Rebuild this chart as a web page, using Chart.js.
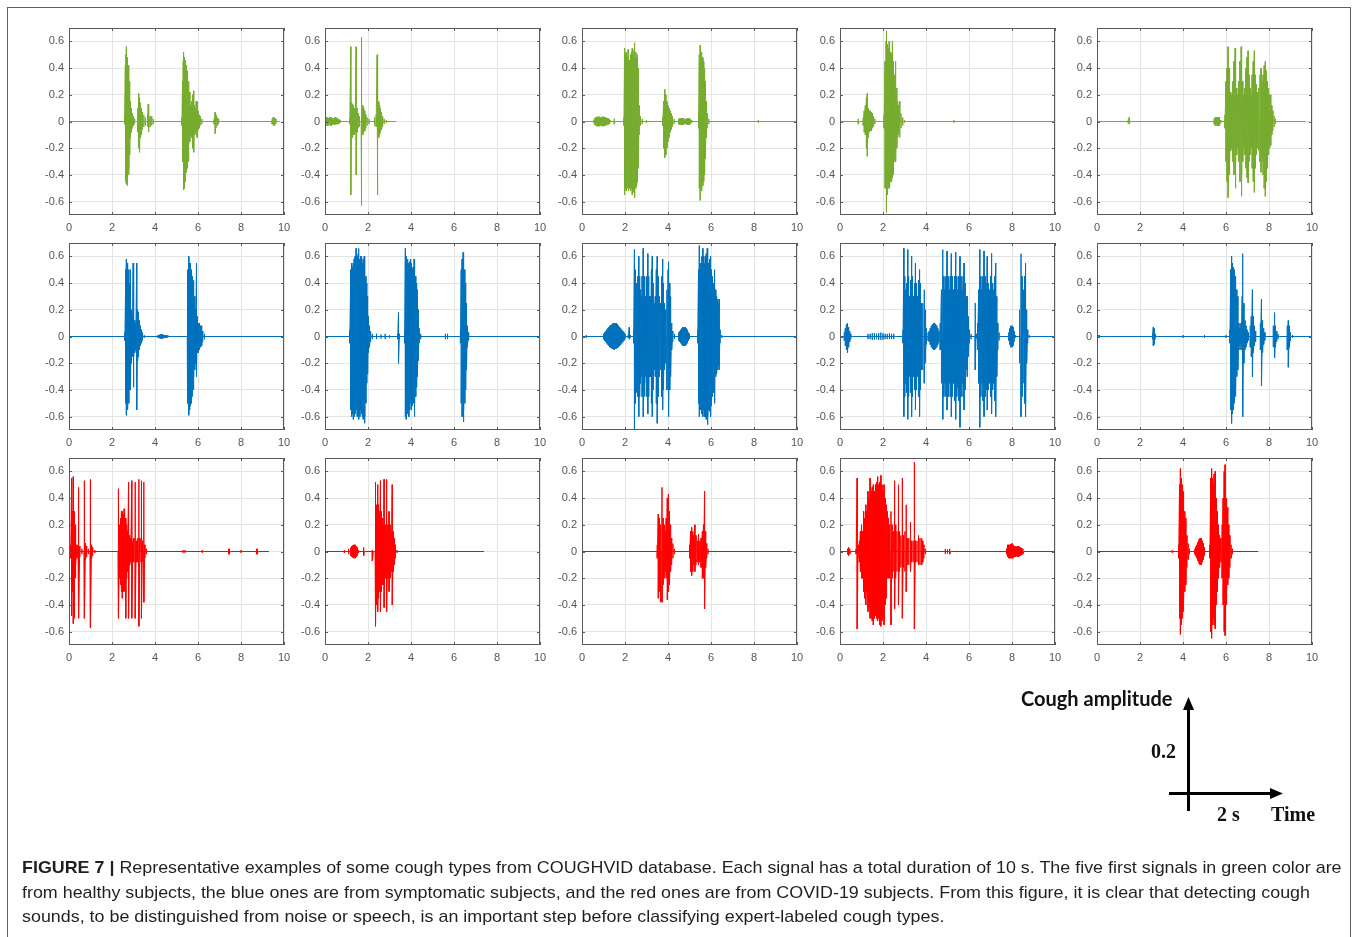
<!DOCTYPE html>
<html>
<head>
<meta charset="UTF-8">
<title>Cough signals</title>
<script src="https://cdn.jsdelivr.net/npm/chart.js@4.4.0/dist/chart.umd.min.js"></script>
<style>
  body { margin:0; background:#fff; width:1357px; height:937px; position:relative; overflow:hidden;
         font-family:"Liberation Sans", Arial, sans-serif; }
  #frame { position:absolute; left:7px; top:7px; width:1344px; height:960px; border:1px solid #606060; box-sizing:border-box; }
  canvas.panel { position:absolute; }
  .lbl { position:absolute; white-space:nowrap; color:#111; font-weight:bold; }
  #caption { position:absolute; left:22px; top:856px; color:#231f20; font-size:17px; line-height:24.5px;
             white-space:nowrap; transform-origin:0 0; }
  #caption b { font-weight:bold; }
</style>
</head>
<body>
<div id="frame"></div>
<div id="panels"></div>

<svg style="position:absolute;left:0;top:0" width="1357" height="937">
  <line x1="1188.5" y1="811" x2="1188.5" y2="708" stroke="#000" stroke-width="3"/>
  <polygon points="1188.5,697 1183,710 1194,710" fill="#000"/>
  <line x1="1169" y1="793.5" x2="1271" y2="793.5" stroke="#000" stroke-width="3"/>
  <polygon points="1283,793.5 1270,788 1270,799" fill="#000"/>
</svg>
<div class="lbl" style="left:1021px;top:688px;font-family:Lato,'Open Sans',sans-serif;font-size:20px;line-height:20px;">Cough amplitude</div>
<div class="lbl" style="left:1151px;top:740px;font-family:'Liberation Serif',serif;font-size:20px;line-height:22px;">0.2</div>
<div class="lbl" style="left:1217px;top:803px;font-family:'Liberation Serif',serif;font-size:20px;line-height:22px;">2 s</div>
<div class="lbl" style="left:1271px;top:803px;font-family:'Liberation Serif',serif;font-size:20px;line-height:22px;">Time</div>

<div id="caption">
  <div id="capLine1"><b>FIGURE 7 |</b> Representative examples of some cough types from COUGHVID database. Each signal has a total duration of 10 s. The five first signals in green color are</div>
  <div>from healthy subjects, the blue ones are from symptomatic subjects, and the red ones are from COVID-19 subjects. From this figure, it is clear that detecting cough</div>
  <div>sounds, to be distinguished from noise or speech, is an important step before classifying expert-labeled cough types.</div>
</div>

<script>
// tick labels
const xTicks = [0, 2, 4, 6, 8, 10];
const yTicks = [-0.6, -0.4, -0.2, 0, 0.2, 0.4, 0.6];

// one row per subject group
const groups = ['healthy', 'symptomatic', 'COVID-19'];
const groupColors = ['#77ac30', '#0072bd', '#ff0000'];

// spikes: [time s, upper amplitude, lower amplitude]
const g1 = [[0,0,0],[2.58,0.02,-0.02],[2.62,0.42,-0.4],[2.65,0.5,-0.45],[2.67,0.56,-0.47],[2.7,0.48,-0.48],[2.73,0.45,-0.42],[2.76,0.42,-0.4],[2.79,0.4,-0.36],[2.82,0.3,-0.25],[2.86,0.15,-0.12],[2.9,0.1,-0.08],[2.95,0.06,-0.05],[3.0,0.04,-0.03],[3.05,0.02,-0.02],
  [3.2,0.1,-0.08],[3.24,0.21,-0.2],[3.28,0.18,-0.23],[3.32,0.14,-0.12],[3.37,0.1,-0.1],[3.42,0.07,-0.06],[3.48,0.05,-0.04],[3.55,0.03,-0.03],
  [3.65,0.05,-0.04],[3.68,0.13,-0.08],[3.72,0.06,-0.05],[3.78,0.04,-0.04],[3.85,0.04,-0.03],[3.92,0.02,-0.02],[4.0,0,0],
  [5.25,0.03,-0.03],[5.28,0.3,-0.3],[5.31,0.45,-0.42],[5.34,0.52,-0.51],[5.37,0.48,-0.5],[5.4,0.46,-0.45],[5.43,0.44,-0.42],[5.46,0.42,-0.38],[5.5,0.38,-0.35],[5.54,0.3,-0.3],[5.58,0.2,-0.17],[5.62,0.22,-0.15],[5.66,0.12,-0.1],[5.7,0.15,-0.12],[5.75,0.2,-0.2],[5.8,0.23,-0.23],[5.84,0.12,-0.1],[5.88,0.1,-0.08],[5.92,0.15,-0.1],[5.96,0.15,-0.12],[6.0,0.08,-0.06],[6.05,0.05,-0.05],[6.1,0.04,-0.03],[6.18,0.02,-0.02],
  [6.75,0.02,-0.02],[6.8,0.07,-0.09],[6.84,0.05,-0.05],[6.9,0.03,-0.03],[6.96,0.02,-0.02],
  [9.45,0.02,-0.02],[9.5,0.03,-0.03],[9.56,0.03,-0.03],[9.62,0.02,-0.02],[9.8,0,0]];
const g2 = [[0,0.02,-0.02],[0.05,0.03,-0.03],[0.1,0.03,-0.03],[0.15,0.025,-0.03],[0.2,0.03,-0.02],[0.25,0.03,-0.03],[0.3,0.03,-0.03],[0.35,0.025,-0.025],[0.4,0.02,-0.02],[0.45,0.03,-0.025],[0.5,0.03,-0.02],[0.55,0.025,-0.02],[0.6,0.02,-0.02],[0.65,0.015,-0.015],[0.7,0.01,-0.01],[0.8,0,0],
  [1.15,0.02,-0.02],[1.2,0.56,-0.55],[1.24,0.14,-0.12],[1.28,0.13,-0.12],[1.32,0.12,-0.1],[1.36,0.1,-0.1],[1.4,0.09,-0.08],[1.45,0.56,-0.4],[1.49,0.1,-0.08],[1.54,0.06,-0.05],[1.6,0.04,-0.04],
  [1.68,0.63,-0.63],[1.72,0.12,-0.1],[1.76,0.12,-0.1],[1.8,0.1,-0.08],[1.85,0.08,-0.07],[1.9,0.05,-0.05],[1.96,0.03,-0.03],[2.05,0.02,-0.02],
  [2.3,0.03,-0.03],[2.38,0.05,-0.04],[2.42,0.5,-0.55],[2.46,0.18,-0.12],[2.5,0.15,-0.12],[2.54,0.12,-0.1],[2.58,0.1,-0.08],[2.63,0.07,-0.06],[2.68,0.04,-0.04],[2.75,0.02,-0.02],[2.85,0.01,-0.01],[3.3,0,0]];
const g3 = [[0,0,0],[0.55,0.01,-0.01],[0.6,0.025,-0.025],[0.65,0.03,-0.03],[0.7,0.035,-0.035],[0.75,0.035,-0.035],[0.8,0.035,-0.035],[0.85,0.03,-0.03],[0.9,0.03,-0.03],[0.95,0.035,-0.035],[1.0,0.035,-0.035],[1.05,0.03,-0.03],[1.1,0.03,-0.03],[1.15,0.025,-0.025],[1.2,0.025,-0.025],[1.25,0.02,-0.02],[1.3,0.01,-0.01],[1.5,0.02,-0.02],[1.55,0,0],
  [1.95,0.03,-0.03],[1.98,0.55,-0.55],[2.02,0.5,-0.5],[2.06,0.52,-0.52],[2.1,0.48,-0.5],[2.14,0.54,-0.52],[2.18,0.5,-0.48],[2.22,0.46,-0.5],[2.26,0.5,-0.52],[2.3,0.52,-0.5],[2.34,0.55,-0.55],[2.38,0.5,-0.53],[2.42,0.54,-0.52],[2.46,0.59,-0.57],[2.5,0.52,-0.5],[2.54,0.48,-0.48],[2.58,0.5,-0.45],[2.62,0.4,-0.35],[2.66,0.12,-0.1],[2.72,0.04,-0.03],[2.8,0.02,-0.02],[3.0,0.01,-0.01],
  [3.75,0.03,-0.03],[3.8,0.15,-0.2],[3.85,0.24,-0.27],[3.9,0.2,-0.25],[3.95,0.15,-0.2],[4.0,0.12,-0.15],[4.05,0.1,-0.12],[4.1,0.08,-0.08],[4.15,0.06,-0.06],[4.2,0.04,-0.04],[4.28,0.02,-0.02],
  [4.5,0.02,-0.02],[4.55,0.025,-0.025],[4.6,0.025,-0.025],[4.65,0.025,-0.025],[4.7,0.025,-0.025],[4.75,0.02,-0.02],[4.8,0.015,-0.015],[4.85,0.02,-0.02],[4.9,0.025,-0.025],[4.95,0.025,-0.025],[5.0,0.025,-0.025],[5.05,0.015,-0.015],[5.1,0.01,-0.01],
  [5.42,0.05,-0.05],[5.46,0.5,-0.5],[5.5,0.57,-0.59],[5.54,0.5,-0.52],[5.58,0.52,-0.5],[5.62,0.48,-0.48],[5.66,0.45,-0.45],[5.7,0.4,-0.4],[5.74,0.3,-0.28],[5.78,0.15,-0.12],[5.82,0.06,-0.05],[5.9,0.02,-0.02],[8.2,0.01,-0.01],[10,0,0]];
const g4 = [[0,0,0],[0.85,0.02,-0.02],[0.9,0,0],[1.08,0.03,-0.03],[1.13,0.08,-0.08],[1.18,0.12,-0.1],[1.23,0.18,-0.2],[1.27,0.21,-0.26],[1.31,0.1,-0.12],[1.36,0.08,-0.08],[1.41,0.08,-0.07],[1.46,0.07,-0.07],[1.51,0.06,-0.05],[1.56,0.04,-0.04],[1.62,0.02,-0.02],
  [2.05,0.05,-0.05],[2.1,0.45,-0.5],[2.14,0.6,-0.62],[2.17,0.68,-0.68],[2.2,0.58,-0.55],[2.24,0.55,-0.5],[2.28,0.6,-0.5],[2.32,0.55,-0.48],[2.36,0.52,-0.45],[2.4,0.5,-0.45],[2.44,0.6,-0.42],[2.48,0.45,-0.4],[2.52,0.35,-0.3],[2.56,0.3,-0.25],[2.6,0.45,-0.3],[2.64,0.25,-0.2],[2.68,0.15,-0.12],[2.72,0.12,-0.1],[2.78,0.15,-0.12],[2.84,0.06,-0.05],[2.92,0.03,-0.03],[3.0,0.01,-0.01],
  [5.3,0.01,-0.01],[10,0,0]];
const g5 = [[0,0,0],[1.45,0.01,-0.01],[1.5,0.03,-0.02],[1.55,0,0],[5.45,0.02,-0.02],[5.5,0.03,-0.03],[5.55,0.03,-0.03],[5.6,0.03,-0.03],[5.65,0.03,-0.03],[5.7,0.03,-0.03],[5.76,0.01,-0.01],
  [5.95,0.05,-0.05],[6.0,0.3,-0.3],[6.05,0.4,-0.45],[6.1,0.56,-0.57],[6.14,0.4,-0.4],[6.18,0.3,-0.3],[6.22,0.22,-0.22],[6.27,0.2,-0.2],[6.32,0.3,-0.3],[6.37,0.45,-0.4],[6.42,0.55,-0.5],[6.46,0.35,-0.3],[6.5,0.25,-0.25],[6.55,0.2,-0.2],[6.6,0.3,-0.3],[6.65,0.45,-0.45],[6.7,0.56,-0.56],[6.74,0.4,-0.4],[6.78,0.3,-0.3],[6.83,0.2,-0.2],[6.88,0.25,-0.25],[6.93,0.4,-0.35],[6.98,0.48,-0.42],[7.03,0.53,-0.46],[7.07,0.35,-0.3],[7.12,0.25,-0.25],[7.17,0.2,-0.2],[7.22,0.35,-0.35],[7.27,0.45,-0.45],[7.32,0.53,-0.53],[7.36,0.35,-0.35],[7.41,0.28,-0.25],[7.46,0.22,-0.2],[7.52,0.25,-0.22],[7.58,0.35,-0.3],[7.63,0.4,-0.38],[7.68,0.3,-0.3],[7.73,0.35,-0.4],[7.78,0.42,-0.5],[7.83,0.45,-0.56],[7.88,0.38,-0.45],[7.93,0.3,-0.35],[7.98,0.25,-0.25],[8.03,0.2,-0.2],[8.08,0.2,-0.18],[8.13,0.12,-0.1],[8.18,0.08,-0.07],[8.24,0.04,-0.04],[8.3,0.02,-0.02],[9.7,0,0]];

const b1 = [[0,0,0],[2.6,0.03,-0.03],[2.64,0.5,-0.5],[2.67,0.58,-0.59],[2.7,0.55,-0.55],[2.74,0.52,-0.52],[2.78,0.5,-0.5],[2.82,0.4,-0.4],[2.86,0.5,-0.4],[2.9,0.2,-0.2],[2.94,0.15,-0.15],[2.98,0.55,-0.38],[3.02,0.2,-0.15],[3.06,0.12,-0.12],[3.1,0.1,-0.1],[3.15,0.55,-0.55],[3.19,0.2,-0.18],[3.23,0.18,-0.15],[3.27,0.12,-0.1],[3.32,0.08,-0.07],[3.37,0.05,-0.05],[3.42,0.03,-0.03],[3.5,0.01,-0.01],
  [4.1,0.005,-0.005],[4.15,0.01,-0.01],[4.2,0.012,-0.012],[4.25,0.015,-0.015],[4.3,0.015,-0.015],[4.35,0.015,-0.015],[4.4,0.012,-0.012],[4.45,0.01,-0.01],[4.5,0.01,-0.01],[4.55,0.008,-0.008],[4.6,0.006,-0.006],[4.75,0,0],
  [5.5,0.03,-0.03],[5.53,0.5,-0.5],[5.57,0.6,-0.59],[5.61,0.55,-0.55],[5.65,0.55,-0.52],[5.69,0.5,-0.5],[5.73,0.45,-0.45],[5.77,0.42,-0.4],[5.81,0.35,-0.3],[5.85,0.3,-0.25],[5.89,0.2,-0.2],[5.93,0.55,-0.3],[5.97,0.15,-0.12],[6.02,0.1,-0.12],[6.07,0.1,-0.1],[6.12,0.08,-0.08],[6.17,0.08,-0.07],[6.22,0.04,-0.04],[6.3,0.02,-0.02],[10,0,0]];
const b2 = [[0,0,0],[1.15,0.05,-0.05],[1.2,0.5,-0.55],[1.24,0.55,-0.6],[1.28,0.52,-0.58],[1.32,0.55,-0.62],[1.36,0.58,-0.6],[1.4,0.6,-0.58],[1.45,0.66,-0.55],[1.5,0.6,-0.6],[1.54,0.62,-0.58],[1.58,0.66,-0.62],[1.62,0.58,-0.6],[1.66,0.6,-0.55],[1.7,0.6,-0.58],[1.74,0.55,-0.6],[1.78,0.58,-0.62],[1.82,0.6,-0.65],[1.86,0.5,-0.6],[1.9,0.45,-0.5],[1.94,0.4,-0.35],[1.98,0.3,-0.28],[2.02,0.15,-0.12],[2.07,0.08,-0.08],[2.12,0.04,-0.04],[2.2,0.02,-0.02],[2.4,0.02,-0.02],[2.6,0.015,-0.015],[2.8,0.02,-0.02],[3.0,0.01,-0.01],
  [3.38,0.02,-0.02],[3.42,0.18,-0.2],[3.46,0.02,-0.02],
  [3.7,0.05,-0.05],[3.74,0.66,-0.6],[3.78,0.6,-0.62],[3.82,0.55,-0.55],[3.86,0.58,-0.58],[3.9,0.55,-0.6],[3.94,0.56,-0.55],[3.98,0.58,-0.5],[4.02,0.55,-0.55],[4.06,0.5,-0.52],[4.1,0.52,-0.5],[4.14,0.58,-0.6],[4.18,0.5,-0.5],[4.22,0.45,-0.45],[4.26,0.4,-0.38],[4.3,0.35,-0.3],[4.34,0.2,-0.18],[4.38,0.06,-0.05],[4.45,0.02,-0.02],
  [5.6,0.02,-0.02],[5.7,0.02,-0.02],[5.8,0,0],
  [6.3,0.05,-0.05],[6.34,0.5,-0.5],[6.38,0.58,-0.6],[6.42,0.63,-0.64],[6.46,0.55,-0.55],[6.5,0.5,-0.5],[6.54,0.4,-0.4],[6.58,0.25,-0.25],[6.62,0.08,-0.08],[6.68,0.03,-0.03],[10,0,0]];
const b3 = [[0,0.12,-0.1],[0.04,0.03,-0.03],[0.2,0.01,-0.01],
  [1.0,0.02,-0.02],[1.05,0.03,-0.03],[1.1,0.04,-0.04],[1.15,0.05,-0.05],[1.2,0.06,-0.06],[1.25,0.07,-0.07],[1.3,0.08,-0.08],[1.35,0.085,-0.085],[1.4,0.09,-0.09],[1.45,0.1,-0.095],[1.5,0.1,-0.1],[1.55,0.1,-0.09],[1.6,0.1,-0.09],[1.65,0.09,-0.085],[1.7,0.08,-0.08],[1.75,0.07,-0.07],[1.8,0.06,-0.06],[1.85,0.05,-0.05],[1.9,0.04,-0.04],[1.95,0.03,-0.03],[2.0,0.02,-0.02],[2.15,0.01,-0.01],[2.2,0.07,-0.02],[2.25,0.01,-0.01],
  [2.4,0.05,-0.05],[2.44,0.65,-0.7],[2.48,0.5,-0.5],[2.52,0.4,-0.42],[2.56,0.3,-0.3],[2.6,0.45,-0.45],[2.64,0.6,-0.6],[2.68,0.45,-0.45],[2.72,0.35,-0.35],[2.76,0.3,-0.3],[2.8,0.45,-0.45],[2.85,0.66,-0.6],[2.89,0.45,-0.45],[2.93,0.35,-0.35],[2.97,0.3,-0.3],[3.02,0.45,-0.45],[3.06,0.62,-0.58],[3.1,0.45,-0.45],[3.14,0.3,-0.3],[3.19,0.3,-0.3],[3.23,0.5,-0.5],[3.27,0.6,-0.6],[3.31,0.4,-0.4],[3.36,0.25,-0.25],[3.41,0.3,-0.3],[3.46,0.5,-0.5],[3.5,0.6,-0.65],[3.54,0.45,-0.45],[3.59,0.3,-0.3],[3.64,0.25,-0.25],[3.7,0.45,-0.45],[3.75,0.58,-0.55],[3.79,0.4,-0.4],[3.84,0.25,-0.25],[3.89,0.2,-0.2],[3.95,0.35,-0.4],[4.0,0.5,-0.5],[4.04,0.56,-0.6],[4.08,0.4,-0.4],[4.12,0.3,-0.3],[4.17,0.1,-0.1],[4.22,0.04,-0.04],[4.3,0.02,-0.02],
  [4.5,0.03,-0.03],[4.55,0.04,-0.04],[4.6,0.05,-0.05],[4.65,0.06,-0.06],[4.7,0.07,-0.07],[4.75,0.07,-0.07],[4.8,0.07,-0.07],[4.85,0.06,-0.06],[4.9,0.05,-0.05],[4.95,0.03,-0.03],[5.0,0.02,-0.02],
  [5.38,0.05,-0.05],[5.42,0.5,-0.5],[5.46,0.68,-0.6],[5.5,0.55,-0.55],[5.54,0.55,-0.55],[5.58,0.6,-0.58],[5.62,0.66,-0.6],[5.66,0.6,-0.55],[5.7,0.55,-0.6],[5.74,0.6,-0.6],[5.78,0.62,-0.62],[5.82,0.66,-0.66],[5.86,0.6,-0.6],[5.9,0.55,-0.55],[5.94,0.58,-0.56],[5.98,0.6,-0.6],[6.02,0.5,-0.52],[6.06,0.45,-0.45],[6.1,0.4,-0.42],[6.14,0.35,-0.35],[6.18,0.5,-0.5],[6.22,0.35,-0.3],[6.26,0.3,-0.28],[6.3,0.28,-0.25],[6.34,0.25,-0.22],[6.38,0.28,-0.25],[6.42,0.05,-0.05],[6.5,0.01,-0.01],[10,0,0]];
const b4 = [[0,0,0],[0.2,0.03,-0.03],[0.25,0.06,-0.07],[0.3,0.09,-0.1],[0.35,0.1,-0.12],[0.4,0.07,-0.08],[0.45,0.04,-0.04],[0.5,0.02,-0.02],[0.6,0,0],
  [1.3,0.02,-0.02],[1.4,0.02,-0.02],[1.5,0.025,-0.025],[1.6,0.025,-0.025],[1.7,0.02,-0.02],[1.8,0.025,-0.025],[1.9,0.03,-0.025],[2.0,0.025,-0.025],[2.1,0.02,-0.02],[2.2,0.02,-0.02],[2.3,0.025,-0.02],[2.4,0.02,-0.02],[2.5,0.02,-0.02],[2.6,0,0],
  [2.93,0.05,-0.05],[2.97,0.66,-0.6],[3.01,0.45,-0.45],[3.05,0.35,-0.35],[3.1,0.4,-0.42],[3.15,0.65,-0.62],[3.19,0.45,-0.45],[3.24,0.3,-0.3],[3.29,0.42,-0.42],[3.33,0.6,-0.6],[3.37,0.45,-0.45],[3.42,0.3,-0.3],[3.47,0.4,-0.4],[3.51,0.55,-0.55],[3.55,0.4,-0.4],[3.6,0.3,-0.3],[3.65,0.42,-0.45],[3.7,0.5,-0.6],[3.74,0.4,-0.4],[3.79,0.25,-0.25],[3.85,0.25,-0.25],[3.92,0.35,-0.35],[3.96,0.2,-0.2],[4.02,0.06,-0.06],[4.1,0.03,-0.03],
  [4.15,0.04,-0.04],[4.2,0.06,-0.06],[4.25,0.08,-0.08],[4.3,0.09,-0.09],[4.35,0.1,-0.1],[4.4,0.1,-0.1],[4.45,0.09,-0.09],[4.5,0.08,-0.08],[4.55,0.06,-0.06],[4.6,0.04,-0.04],
  [4.66,0.1,-0.1],[4.72,0.35,-0.35],[4.78,0.65,-0.62],[4.83,0.45,-0.45],[4.88,0.35,-0.35],[4.93,0.45,-0.45],[4.98,0.64,-0.55],[5.03,0.45,-0.45],[5.08,0.35,-0.35],[5.13,0.45,-0.45],[5.18,0.62,-0.6],[5.23,0.45,-0.45],[5.28,0.35,-0.35],[5.33,0.45,-0.48],[5.38,0.63,-0.62],[5.43,0.45,-0.45],[5.48,0.35,-0.38],[5.53,0.45,-0.48],[5.58,0.6,-0.68],[5.63,0.45,-0.45],[5.68,0.35,-0.35],[5.73,0.45,-0.45],[5.77,0.55,-0.55],[5.82,0.4,-0.4],[5.87,0.3,-0.25],[5.92,0.3,-0.3],[5.97,0.15,-0.15],[6.02,0.05,-0.05],[6.1,0.02,-0.02],[6.28,0.02,-0.02],[6.3,0.25,-0.25],[6.33,0.02,-0.02],
  [6.4,0.1,-0.1],[6.45,0.35,-0.35],[6.5,0.65,-0.68],[6.55,0.45,-0.45],[6.6,0.35,-0.35],[6.65,0.45,-0.48],[6.7,0.64,-0.6],[6.75,0.45,-0.45],[6.8,0.4,-0.4],[6.85,0.6,-0.55],[6.9,0.4,-0.4],[6.95,0.35,-0.35],[7.0,0.45,-0.45],[7.05,0.62,-0.58],[7.1,0.4,-0.4],[7.15,0.35,-0.35],[7.2,0.45,-0.48],[7.24,0.55,-0.6],[7.29,0.3,-0.3],[7.34,0.1,-0.1],[7.4,0.03,-0.03],
  [7.85,0.03,-0.03],[7.9,0.06,-0.06],[7.95,0.08,-0.08],[8.0,0.08,-0.08],[8.05,0.07,-0.07],[8.1,0.04,-0.04],[8.16,0.01,-0.01],
  [8.35,0.2,-0.2],[8.42,0.62,-0.6],[8.47,0.45,-0.45],[8.52,0.35,-0.35],[8.58,0.45,-0.5],[8.63,0.55,-0.6],[8.68,0.2,-0.2],[8.73,0.05,-0.05],[8.8,0.01,-0.01],[10,0,0]];
const b5 = [[0,0.01,-0.01],[0.05,0.01,-0.01],[0.1,0.01,-0.01],[0.5,0,0],[2.58,0.02,-0.02],[2.62,0.07,-0.07],[2.66,0.06,-0.06],[2.7,0.02,-0.02],[2.8,0,0],[4.0,0.01,-0.01],[5.0,0.01,-0.01],[6.0,0.01,-0.01],
  [6.18,0.05,-0.05],[6.22,0.5,-0.55],[6.26,0.6,-0.65],[6.3,0.55,-0.58],[6.34,0.52,-0.55],[6.38,0.5,-0.5],[6.42,0.45,-0.45],[6.46,0.4,-0.38],[6.5,0.35,-0.3],[6.55,0.3,-0.25],[6.6,0.1,-0.1],[6.65,0.06,-0.06],
  [6.7,0.1,-0.1],[6.75,0.3,-0.3],[6.79,0.62,-0.6],[6.83,0.25,-0.2],[6.88,0.12,-0.1],[6.93,0.08,-0.08],[6.98,0.05,-0.05],[7.04,0.03,-0.03],
  [7.13,0.08,-0.08],[7.18,0.15,-0.15],[7.23,0.35,-0.3],[7.27,0.15,-0.12],[7.32,0.08,-0.07],[7.38,0.04,-0.04],
  [7.6,0.1,-0.1],[7.65,0.28,-0.37],[7.7,0.12,-0.12],[7.75,0.06,-0.06],[7.81,0.03,-0.03],
  [8.2,0.08,-0.08],[8.26,0.18,-0.16],[8.3,0.08,-0.08],[8.36,0.04,-0.04],[8.42,0.02,-0.02],
  [8.85,0.08,-0.1],[8.9,0.12,-0.23],[8.95,0.08,-0.08],[9.0,0.03,-0.03],[9.1,0.01,-0.01],[10,0,0]];

const r1 = [[0,0,0],[0.08,0.05,-0.05],[0.12,0.55,-0.48],[0.16,0.3,-0.3],[0.2,0.56,-0.54],[0.24,0.3,-0.5],[0.28,0.2,-0.2],[0.32,0.1,-0.1],[0.37,0.05,-0.05],[0.42,0.03,-0.03],[0.46,0.48,-0.5],[0.5,0.04,-0.04],[0.6,0.02,-0.02],[0.7,0.03,-0.03],[0.73,0.53,-0.5],[0.77,0.06,-0.06],[0.82,0.04,-0.04],[0.9,0.02,-0.02],[0.98,0.03,-0.03],[1.01,0.54,-0.57],[1.05,0.05,-0.05],[1.1,0.03,-0.03],[1.2,0.01,-0.01],
  [2.28,0.05,-0.05],[2.32,0.47,-0.5],[2.36,0.2,-0.2],[2.4,0.25,-0.25],[2.44,0.3,-0.3],[2.48,0.3,-0.35],[2.52,0.28,-0.3],[2.56,0.32,-0.3],[2.6,0.3,-0.28],[2.64,0.25,-0.5],[2.68,0.2,-0.2],[2.72,0.15,-0.15],[2.77,0.52,-0.5],[2.82,0.12,-0.1],[2.87,0.1,-0.08],[2.92,0.53,-0.5],[2.97,0.08,-0.08],[3.02,0.1,-0.08],[3.08,0.52,-0.5],[3.13,0.08,-0.08],[3.19,0.1,-0.08],[3.25,0.54,-0.56],[3.3,0.1,-0.08],[3.37,0.53,-0.5],[3.42,0.08,-0.08],[3.48,0.52,-0.38],[3.53,0.05,-0.05],[3.6,0.02,-0.02],
  [5.3,0.01,-0.01],[5.4,0.01,-0.01],[5.5,0,0],[6.2,0.01,-0.01],[6.3,0,0],[7.42,0.02,-0.02],[7.46,0.02,-0.02],[7.5,0,0],[8.0,0.01,-0.01],[8.72,0.02,-0.02],[8.76,0.02,-0.02],[8.8,0,0],[9.3,0,0]];
const r2 = [[0,0,0],[0.9,0.01,-0.01],[1.1,0.02,-0.02],[1.2,0.03,-0.03],[1.25,0.04,-0.04],[1.3,0.045,-0.045],[1.35,0.05,-0.05],[1.4,0.05,-0.05],[1.45,0.04,-0.04],[1.5,0.03,-0.03],[1.55,0.01,-0.01],[1.8,0.03,-0.03],[1.83,0,0],[2.2,0.01,-0.07],[2.25,0,0],
  [2.33,0.05,-0.05],[2.37,0.52,-0.56],[2.41,0.35,-0.4],[2.45,0.5,-0.45],[2.49,0.35,-0.35],[2.53,0.3,-0.3],[2.58,0.53,-0.45],[2.62,0.3,-0.3],[2.67,0.25,-0.25],[2.71,0.2,-0.25],[2.75,0.54,-0.42],[2.8,0.2,-0.2],[2.84,0.15,-0.15],[2.88,0.54,-0.45],[2.93,0.2,-0.2],[2.98,0.3,-0.3],[3.03,0.2,-0.2],[3.08,0.15,-0.15],[3.13,0.5,-0.4],[3.18,0.15,-0.15],[3.23,0.1,-0.1],[3.28,0.05,-0.05],[3.35,0.01,-0.01],[7.4,0,0]];
const r3 = [[0,0,0],[3.5,0.05,-0.05],[3.55,0.28,-0.35],[3.6,0.25,-0.3],[3.65,0.2,-0.38],[3.72,0.48,-0.38],[3.77,0.25,-0.25],[3.82,0.2,-0.2],[3.87,0.15,-0.15],[3.92,0.25,-0.2],[3.97,0.4,-0.36],[4.02,0.43,-0.3],[4.07,0.3,-0.25],[4.12,0.2,-0.15],[4.17,0.1,-0.1],[4.23,0.06,-0.05],[4.3,0.02,-0.02],
  [5.0,0.05,-0.05],[5.05,0.15,-0.15],[5.1,0.18,-0.18],[5.15,0.15,-0.15],[5.2,0.12,-0.1],[5.25,0.2,-0.15],[5.3,0.12,-0.1],[5.36,0.08,-0.08],[5.42,0.13,-0.1],[5.48,0.08,-0.08],[5.54,0.1,-0.12],[5.6,0.15,-0.2],[5.65,0.2,-0.2],[5.7,0.45,-0.43],[5.75,0.15,-0.12],[5.8,0.06,-0.05],[5.86,0.02,-0.02],[9.75,0,0]];
const r4 = [[0,0,0],[0.35,0.02,-0.02],[0.4,0.03,-0.03],[0.45,0.02,-0.02],[0.5,0,0],[0.75,0.02,-0.02],[0.8,0.55,-0.58],[0.84,0.05,-0.05],[0.9,0.08,-0.08],[0.95,0.15,-0.15],[1.0,0.2,-0.2],[1.05,0.15,-0.2],[1.1,0.3,-0.3],[1.15,0.25,-0.35],[1.2,0.35,-0.4],[1.25,0.3,-0.3],[1.3,0.45,-0.45],[1.35,0.4,-0.42],[1.4,0.55,-0.5],[1.45,0.45,-0.5],[1.5,0.48,-0.52],[1.55,0.5,-0.55],[1.6,0.45,-0.5],[1.65,0.5,-0.48],[1.7,0.52,-0.5],[1.75,0.56,-0.52],[1.8,0.5,-0.5],[1.85,0.52,-0.55],[1.9,0.57,-0.56],[1.95,0.5,-0.52],[2.0,0.45,-0.5],[2.05,0.5,-0.55],[2.1,0.4,-0.4],[2.15,0.35,-0.35],[2.2,0.3,-0.2],[2.25,0.25,-0.2],[2.3,0.2,-0.2],[2.37,0.3,-0.55],[2.42,0.2,-0.2],[2.47,0.15,-0.15],[2.54,0.53,-0.43],[2.59,0.2,-0.2],[2.65,0.15,-0.15],[2.72,0.5,-0.4],[2.77,0.15,-0.15],[2.83,0.12,-0.12],[2.9,0.55,-0.5],[2.95,0.12,-0.12],[3.02,0.15,-0.15],[3.08,0.35,-0.3],[3.13,0.1,-0.1],[3.2,0.1,-0.1],[3.28,0.22,-0.15],[3.33,0.08,-0.08],[3.4,0.08,-0.08],[3.46,0.67,-0.58],[3.51,0.08,-0.08],[3.58,0.08,-0.08],[3.65,0.12,-0.1],[3.72,0.1,-0.1],[3.8,0.1,-0.1],[3.85,0.08,-0.08],[3.9,0.05,-0.05],[3.97,0.02,-0.02],
  [4.9,0.02,-0.02],[5.0,0.015,-0.015],[5.1,0.02,-0.02],[5.15,0,0],
  [7.75,0.02,-0.02],[7.8,0.05,-0.04],[7.85,0.05,-0.05],[7.9,0.05,-0.05],[7.95,0.055,-0.05],[8.0,0.06,-0.05],[8.05,0.05,-0.05],[8.1,0.04,-0.04],[8.15,0.04,-0.04],[8.2,0.035,-0.035],[8.25,0.04,-0.04],[8.3,0.04,-0.04],[8.35,0.035,-0.035],[8.4,0.03,-0.03],[8.45,0.025,-0.025],[8.5,0.02,-0.02],[8.55,0,0],[10,0,0]];
const r5 = [[0,0,0],[3.5,0.01,-0.01],[3.8,0.05,-0.05],[3.84,0.5,-0.5],[3.88,0.62,-0.62],[3.92,0.55,-0.55],[3.96,0.5,-0.5],[4.0,0.45,-0.45],[4.04,0.35,-0.35],[4.08,0.3,-0.3],[4.13,0.25,-0.25],[4.18,0.12,-0.12],[4.24,0.06,-0.06],[4.3,0.02,-0.02],
  [4.55,0.02,-0.02],[4.6,0.035,-0.035],[4.65,0.05,-0.05],[4.7,0.07,-0.07],[4.75,0.09,-0.09],[4.8,0.1,-0.1],[4.85,0.1,-0.1],[4.9,0.08,-0.08],[4.95,0.06,-0.06],[5.0,0.03,-0.03],
  [5.25,0.05,-0.05],[5.29,0.55,-0.6],[5.33,0.62,-0.65],[5.37,0.55,-0.55],[5.41,0.5,-0.5],[5.45,0.58,-0.55],[5.5,0.6,-0.58],[5.55,0.4,-0.4],[5.6,0.3,-0.3],[5.65,0.2,-0.2],[5.7,0.12,-0.12],[5.76,0.1,-0.08],[5.82,0.2,-0.2],[5.87,0.4,-0.4],[5.92,0.6,-0.6],[5.96,0.65,-0.63],[6.0,0.4,-0.4],[6.04,0.3,-0.3],[6.08,0.33,-0.25],[6.13,0.2,-0.2],[6.18,0.12,-0.12],[6.24,0.05,-0.05],[6.3,0.02,-0.02],[7.5,0,0]];

const signals = [[g1, g2, g3, g4, g5], [b1, b2, b3, b4, b5], [r1, r2, r3, r4, r5]];

// panel layout (pixels)
const colLeft = [69, 325, 582, 840, 1097];
const rowTop = [28, 243, 458];
const boxW = 215, boxH = 187, yAxisW = 34, xAxisH = 22, padTop = 3, padRight = 8;

// zig-zag through each spike; quiet stretches between bursts stay on the zero line
function toPoints(spikes) {
  const pts = [];
  spikes.forEach(([t, hi, lo], i) => {
    if (hi === 0 && lo === 0) { pts.push({ x: t, y: 0 }); return; }
    const prev = spikes[i - 1], next = spikes[i + 1];
    if (!prev || t - prev[0] > 0.06) pts.push({ x: t, y: 0 });
    pts.push({ x: t, y: hi });
    pts.push({ x: t, y: lo });
    if (!next || next[0] - t > 0.06) pts.push({ x: t, y: 0 });
  });
  return pts;
}

// MATLAB style box with inward ticks
const boxPlugin = {
  id: 'box',
  afterDraw(chart) {
    const { ctx, chartArea: a, scales } = chart;
    ctx.save();
    ctx.strokeStyle = '#5a5a5a';
    ctx.lineWidth = 1;
    ctx.strokeRect(Math.round(a.left) + 0.5, Math.round(a.top) + 0.5,
                   Math.round(a.right - a.left) - 1, Math.round(a.bottom - a.top) - 1);
    ctx.beginPath();
    xTicks.forEach(v => {
      const px = Math.round(scales.x.getPixelForValue(v)) + 0.5;
      ctx.moveTo(px, a.bottom); ctx.lineTo(px, a.bottom - 3);
      ctx.moveTo(px, a.top); ctx.lineTo(px, a.top + 3);
    });
    yTicks.forEach(v => {
      const py = Math.round(scales.y.getPixelForValue(v)) + 0.5;
      ctx.moveTo(a.left, py); ctx.lineTo(a.left + 3, py);
      ctx.moveTo(a.right, py); ctx.lineTo(a.right - 3, py);
    });
    ctx.stroke();
    ctx.restore();
  }
};

const tickFont = { family: '"Liberation Sans", Arial, sans-serif', size: 11 };
const holder = document.getElementById('panels');

signals.forEach((row, r) => {
  row.forEach((spikes, c) => {
    const cv = document.createElement('canvas');
    cv.className = 'panel';
    cv.width = yAxisW + boxW + padRight;
    cv.height = padTop + boxH + xAxisH;
    cv.style.left = (colLeft[c] - yAxisW) + 'px';
    cv.style.top = (rowTop[r] - padTop) + 'px';
    holder.appendChild(cv);

    new Chart(cv, {
      type: 'line',
      data: {
        datasets: [{
          label: groups[r] + ' ' + (c + 1),
          data: toPoints(spikes),
          borderColor: groupColors[r],
          borderWidth: 1,
          pointRadius: 0,
          tension: 0,
          fill: false
        }]
      },
      options: {
        responsive: false,
        animation: false,
        events: [],
        layout: { autoPadding: false, padding: { top: padTop, right: padRight, left: 0, bottom: 0 } },
        plugins: { legend: { display: false }, tooltip: { enabled: false } },
        scales: {
          x: {
            type: 'linear', min: 0, max: 10,
            afterBuildTicks: s => { s.ticks = xTicks.map(v => ({ value: v })); },
            afterFit: s => { s.height = xAxisH; s.paddingLeft = 0; s.paddingRight = 0; s.paddingTop = 0; s.paddingBottom = 0; },
            ticks: { padding: 6, font: tickFont, color: '#555', maxRotation: 0, callback: v => String(v) },
            grid: { color: '#e4e4e4', drawTicks: false },
            border: { display: false }
          },
          y: {
            type: 'linear', min: -0.7, max: 0.7,
            afterBuildTicks: s => { s.ticks = yTicks.map(v => ({ value: v })); },
            afterFit: s => { s.width = yAxisW; s.paddingLeft = 0; s.paddingRight = 0; s.paddingTop = 0; s.paddingBottom = 0; },
            ticks: { padding: 5, font: tickFont, color: '#555', callback: v => (v === 0 ? '0' : v.toFixed(1)) },
            grid: { color: '#e4e4e4', drawTicks: false },
            border: { display: false }
          }
        }
      },
      plugins: [boxPlugin]
    });
  });
});

// stretch the caption so its first line spans the frame like the original
function fitCaption() {
  const cap = document.getElementById('caption');
  const line = document.getElementById('capLine1');
  cap.style.transform = 'none';
  const w = line.scrollWidth;
  if (w > 0) cap.style.transform = 'scaleX(' + (1320 / w) + ')';
}
fitCaption();
if (document.fonts) document.fonts.ready.then(fitCaption);
</script>
</body>
</html>
